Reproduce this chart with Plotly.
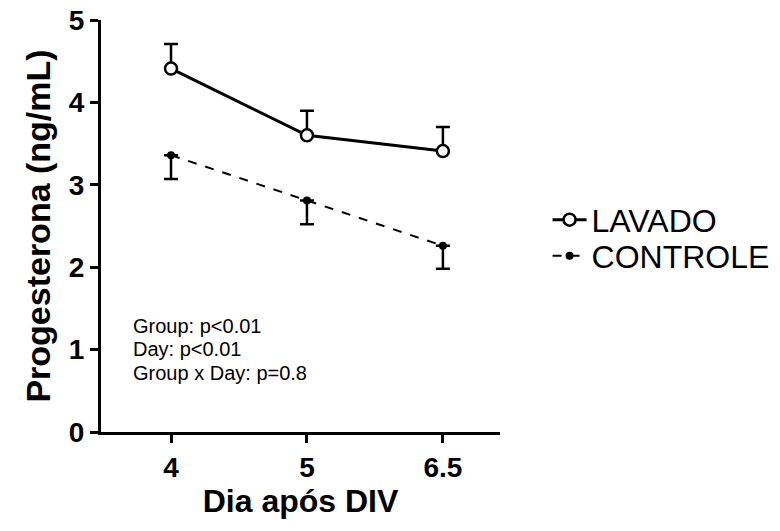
import plotly.graph_objects as go

days = ["4", "5", "6.5"]
lavado_mean = [4.41, 3.60, 3.41]
lavado_sem = [0.30, 0.30, 0.29]
controle_mean = [3.36, 2.81, 2.26]
controle_sem = [0.29, 0.29, 0.28]
y_ticks = [0, 1, 2, 3, 4, 5]
stats_lines = ["Group: p<0.01", "Day: p<0.01", "Group x Day: p=0.8"]

FONT = "Liberation Sans, Arial, sans-serif"

fig = go.Figure()
fig.add_trace(go.Scatter(
    x=days, y=lavado_mean, name="LAVADO", mode="lines+markers", legend="legend",
    line=dict(color="black", width=3),
    marker=dict(symbol="circle", size=12, color="white", line=dict(color="black", width=2.5)),
    error_y=dict(type="data", array=lavado_sem, arrayminus=[0] * len(days), symmetric=False,
                 color="black", thickness=2.5, width=7),
))
fig.add_trace(go.Scatter(
    x=days, y=controle_mean, name="CONTROLE", mode="lines+markers", legend="legend2",
    line=dict(color="black", width=2, dash="dash"),
    marker=dict(symbol="circle", size=8, color="black"),
    error_y=dict(type="data", array=[0] * len(days), arrayminus=controle_sem, symmetric=False,
                 color="black", thickness=2.5, width=7),
))

stat_y = [0.257, 0.201, 0.143]
for line, yy in zip(stats_lines, stat_y):
    fig.add_annotation(
        x=0.075, y=yy, xref="paper", yref="paper", xanchor="left", yanchor="middle",
        text=line, showarrow=False, align="left",
        font=dict(family=FONT, size=20, color="black"),
    )

legend_style = dict(xanchor="left", yanchor="middle", xref="container", yref="container",
                    font=dict(family=FONT, size=32, color="black"),
                    bgcolor="rgba(0,0,0,0)", itemwidth=34)

fig.update_layout(
    width=780, height=531,
    margin=dict(l=101, r=280, t=20, b=99, autoexpand=False),
    paper_bgcolor="white", plot_bgcolor="white",
    font=dict(family=FONT, color="black"),
    showlegend=True,
    legend=dict(x=0.702, y=0.586, **legend_style),
    legend2=dict(x=0.702, y=0.518, **legend_style),
    xaxis=dict(
        type="category", range=[-0.515, 2.42],
        showline=True, linecolor="black", linewidth=3,
        ticks="outside", ticklen=8, tickwidth=2.5, tickcolor="black",
        showgrid=False, zeroline=False,
        tickfont=dict(family=FONT, size=28, color="black", weight="bold"),
        title=dict(text="<b>Dia após DIV</b>", font=dict(family=FONT, size=32, color="black"), standoff=8),
    ),
    yaxis=dict(
        range=[0, 5], tickvals=y_ticks,
        showline=True, linecolor="black", linewidth=3,
        ticks="outside", ticklen=8, tickwidth=2.5, tickcolor="black",
        showgrid=False, zeroline=False,
        tickfont=dict(family=FONT, size=28, color="black", weight="bold"),
        title=dict(text="<b>Progesterona (ng/mL)</b>", font=dict(family=FONT, size=34, color="black"), standoff=8),
    ),
)

fig.write_html("out.html")
